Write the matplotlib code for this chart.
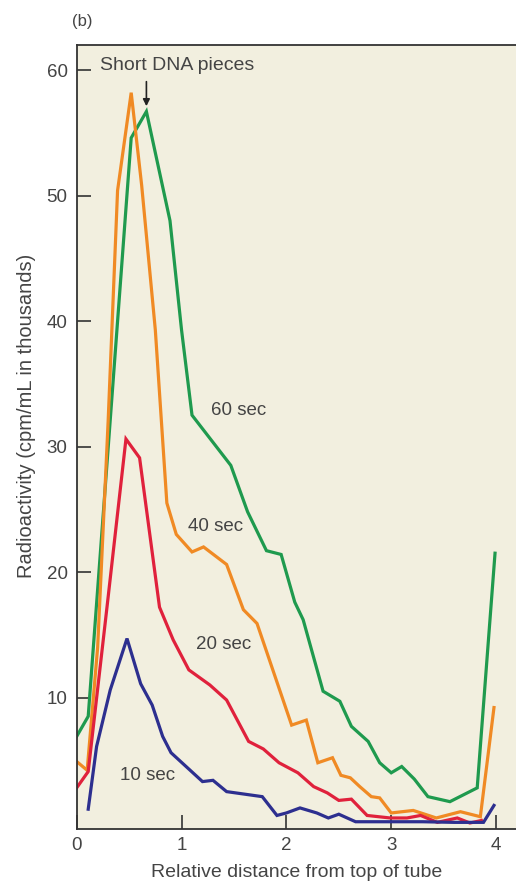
import matplotlib.pyplot as plt

plt.rcParams['font.family'] = ['Liberation Sans', 'DejaVu Sans']

# Radioactivity profiles along the gradient (thousands of cpm/mL)
x_10 = [0.11, 0.19, 0.32, 0.48, 0.61, 0.72, 0.82, 0.90, 1.20, 1.30, 1.43, 1.77,
        1.91, 2.00, 2.13, 2.29, 2.40, 2.50, 2.66, 3.00, 3.30, 3.60, 3.88, 3.98]
y_10 = [1.1, 6.1, 10.6, 14.7, 11.1, 9.4, 6.9, 5.6, 3.3, 3.4, 2.5, 2.1,
        0.6, 0.8, 1.2, 0.8, 0.4, 0.7, 0.1, 0.1, 0.1, 0.05, 0.05, 1.4]

x_20 = [0.0, 0.11, 0.30, 0.47, 0.60, 0.79, 0.92, 1.07, 1.27, 1.43, 1.64, 1.78,
        1.93, 2.11, 2.26, 2.39, 2.50, 2.62, 2.77, 2.99, 3.15, 3.28, 3.44, 3.63,
        3.75, 3.86]
y_20 = [2.8, 4.1, 18.0, 30.6, 29.1, 17.2, 14.6, 12.2, 11.0, 9.8, 6.5, 5.9,
        4.8, 4.0, 2.9, 2.4, 1.8, 1.9, 0.6, 0.4, 0.4, 0.6, 0.05, 0.4,
        0.0, 0.2]

x_40 = [0.0, 0.10, 0.20, 0.30, 0.39, 0.52, 0.62, 0.75, 0.86, 0.95, 1.10, 1.21,
        1.43, 1.59, 1.72, 2.05, 2.19, 2.30, 2.44, 2.52, 2.61, 2.70, 2.81, 2.89,
        3.00, 3.21, 3.43, 3.66, 3.85, 3.98]
y_40 = [4.9, 4.2, 14.0, 32.0, 50.4, 58.2, 50.8, 39.3, 25.5, 23.0, 21.6, 22.0,
        20.6, 17.0, 15.9, 7.8, 8.2, 4.8, 5.2, 3.8, 3.6, 2.9, 2.1, 2.0,
        0.8, 1.0, 0.4, 0.9, 0.5, 9.2]

x_60 = [0.0, 0.11, 0.52, 0.665, 0.89, 1.00, 1.10, 1.47, 1.63, 1.81, 1.95, 2.08,
        2.16, 2.35, 2.51, 2.62, 2.78, 2.89, 3.00, 3.10, 3.22, 3.35, 3.56, 3.82,
        3.99]
y_60 = [6.9, 8.5, 54.6, 56.7, 48.0, 39.3, 32.5, 28.5, 24.8, 21.7, 21.4, 17.6,
        16.2, 10.5, 9.7, 7.7, 6.5, 4.8, 4.0, 4.5, 3.5, 2.1, 1.7, 2.8,
        21.5]

series = [
    (x_60, y_60, '#1f9a4e', '60 sec', 1.54, 32.9),
    (x_40, y_40, '#f08a24', '40 sec', 1.32, 23.6),
    (x_20, y_20, '#e0213c', '20 sec', 1.40, 14.2),
    (x_10, y_10, '#2d2f8f', '10 sec', 0.68, 3.8),
]

fig = plt.figure(figsize=(5.16, 8.84), dpi=100)
ax = fig.add_axes([0.1486, 0.0622, 0.8514, 0.8869])
ax.set_facecolor('#f2efdf')

for xs, ys, color, label, lx, ly in series:
    ax.plot(xs, ys, color=color, lw=2.3, solid_joinstyle='miter')
    ax.text(lx, ly, label, fontsize=13.5, color='#444444', ha='center', va='center')

ax.set_xlim(0, 4.19)
ax.set_ylim(-0.48, 62.0)
ax.set_xticks([0, 1, 2, 3, 4])
ax.set_yticks([10, 20, 30, 40, 50, 60])
ax.tick_params(direction='in', length=10, width=1.2, color='#333333',
               labelsize=13.5, labelcolor='#444444', pad=6)
ax.tick_params(axis='y', pad=6.5)

for side in ['left', 'bottom', 'top']:
    ax.spines[side].set_linewidth(1.3)
    ax.spines[side].set_color('#333333')
ax.spines['right'].set_visible(False)

ax.set_xlabel('Relative distance from top of tube', fontsize=14, color='#444444', labelpad=7)
ax.set_ylabel('Radioactivity (cpm/mL in thousands)', fontsize=14.5, color='#444444')
ax.yaxis.set_label_coords(-0.092, 0.527)

# arrow marking the short fragments peak
ax.annotate('', xy=(0.665, 56.9), xytext=(0.665, 59.3),
            arrowprops=dict(arrowstyle='-|>', color='#222222', lw=1.2,
                            mutation_scale=10))
ax.text(0.22, 60.4, 'Short DNA pieces', fontsize=14, color='#444444', ha='left', va='center')

fig.text(0.159, 0.976, '(b)', fontsize=12, color='#444444', ha='center', va='center')

plt.savefig('out.png', dpi=100)
